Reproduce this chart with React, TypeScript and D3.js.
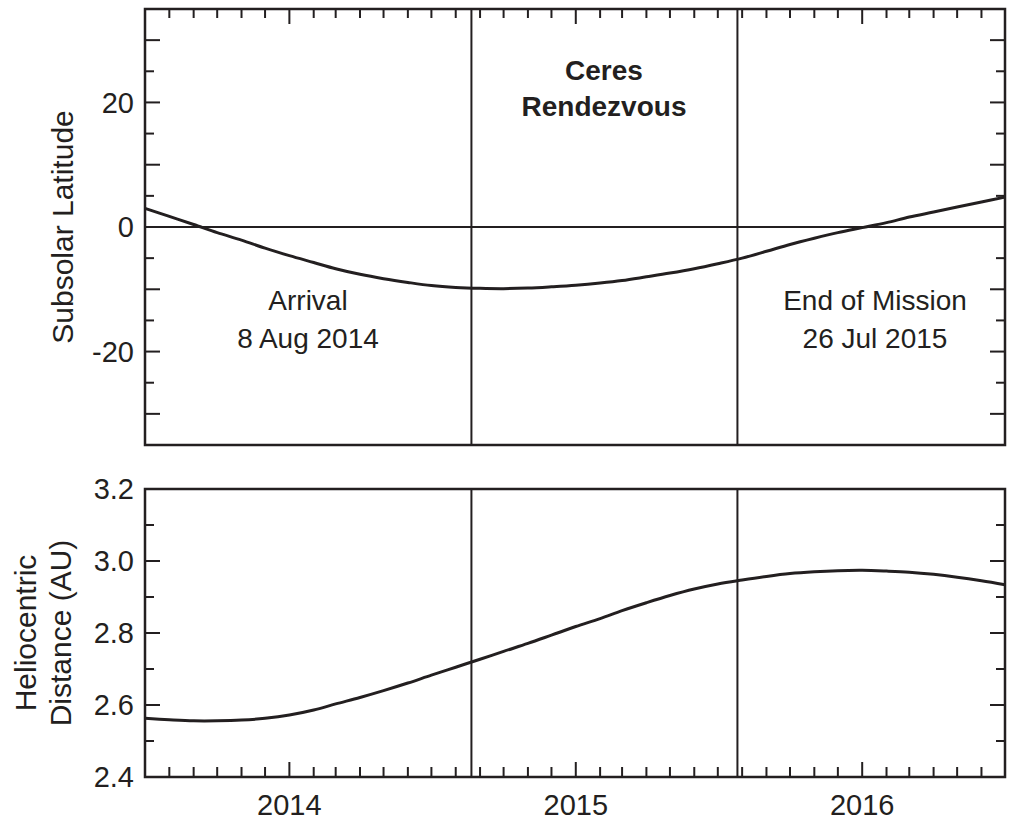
import React from "react";
import * as d3 from "d3";

// monthly samples
const months = [
  "2013-07", "2013-08", "2013-09", "2013-10", "2013-11", "2013-12",
  "2014-01", "2014-02", "2014-03", "2014-04", "2014-05", "2014-06",
  "2014-07", "2014-08", "2014-09", "2014-10", "2014-11", "2014-12",
  "2015-01", "2015-02", "2015-03", "2015-04", "2015-05", "2015-06",
  "2015-07", "2015-08", "2015-09", "2015-10", "2015-11", "2015-12",
  "2016-01", "2016-02", "2016-03", "2016-04", "2016-05", "2016-06",
  "2016-07",
];
const subsolarLat = [
  3.0, 1.7, 0.4, -0.9, -2.1, -3.4,
  -4.6, -5.7, -6.7, -7.6, -8.3, -8.9,
  -9.4, -9.7, -9.85, -9.9, -9.8, -9.6,
  -9.35, -9.0, -8.6, -8.0, -7.4, -6.7,
  -5.9, -5.0, -3.9, -2.8, -1.8, -0.9,
  -0.1, 0.7, 1.6, 2.4, 3.2, 4.0,
  4.8,
];
const helioDist = [
  2.563, 2.559, 2.556, 2.556, 2.558, 2.563,
  2.572, 2.586, 2.603, 2.621, 2.640, 2.661,
  2.683, 2.705, 2.727, 2.749, 2.771, 2.794,
  2.818, 2.840, 2.862, 2.884, 2.904, 2.922,
  2.936, 2.947, 2.957, 2.965, 2.970, 2.973,
  2.974, 2.972, 2.969, 2.963, 2.955, 2.945,
  2.934,
];
// vertical event lines (positions as drawn in the reference)
const markerDates = ["2014-08-21", "2015-07-26"];
const latLabels = [20, 0, -20];
const distLabels = [2.4, 2.6, 2.8, 3.0, 3.2];

const parseMonth = d3.timeParse("%Y-%m");
const parseDay = d3.timeParse("%Y-%m-%d");

const FONT = "'Liberation Sans', Arial, Helvetica, sans-serif";
const INK = "#231f20";

const App = () => {
  const width = 1013;
  const height = 824;
  const left = 145;
  const right = 1005;

  const dates = months.map((m) => parseMonth(m) as Date);
  const x = d3.scaleTime()
    .domain([dates[0], dates[dates.length - 1]])
    .range([left, right]);

  const yLat = d3.scaleLinear().domain([-35, 35]).range([445, 9]);
  const yDist = d3.scaleLinear().domain([2.4, 3.2]).range([777, 489]);

  const latLine = d3.line<number>()
    .x((_, i) => x(dates[i]))
    .y((d) => yLat(d))
    .curve(d3.curveCatmullRom);
  const distLine = d3.line<number>()
    .x((_, i) => x(dates[i]))
    .y((d) => yDist(d))
    .curve(d3.curveCatmullRom);

  const monthTicks = x.ticks(d3.timeMonth.every(1) as any);
  const markers = markerDates.map((d) => parseDay(d) as Date);

  // top panel ticks every 5, long every 10
  const latTicks = d3.range(-30, 31, 5);
  // bottom panel ticks every 0.1, long every 0.2
  const distTicks = d3.range(25, 32).map((v) => v / 10);

  const panel = (y0: number, y1: number) => (
    <rect x={left} y={y0} width={right - left} height={y1 - y0}
      fill="none" stroke={INK} strokeWidth={2.5} />
  );

  return (
    <svg width={width} height={height}
      style={{ position: "absolute", left: 0, top: 0, background: "#fff" }}
      fontFamily={FONT}>
      {/* ---------- top panel ---------- */}
      <line x1={left} x2={right} y1={yLat(0)} y2={yLat(0)} stroke={INK} strokeWidth={2} />
      {markers.map((d, i) => (
        <line key={"mt" + i} x1={x(d)} x2={x(d)} y1={yLat(35)} y2={yLat(-35)}
          stroke={INK} strokeWidth={2} />
      ))}
      {monthTicks.map((d, i) => {
        const isYear = d.getMonth() === 0;
        return <line key={"tt" + i} x1={x(d)} x2={x(d)} y1={yLat(35)}
          y2={yLat(35) + (isYear ? 15 : 9)} stroke={INK} strokeWidth={2} />;
      })}
      {latTicks.map((v) => {
        const len = v % 10 === 0 ? 15 : 9;
        return (
          <g key={"lt" + v}>
            <line x1={left} x2={left + len} y1={yLat(v)} y2={yLat(v)} stroke={INK} strokeWidth={2} />
            <line x1={right} x2={right - len} y1={yLat(v)} y2={yLat(v)} stroke={INK} strokeWidth={2} />
          </g>
        );
      })}
      {latLabels.map((v) => (
        <text key={"ll" + v} x={134} y={yLat(v)} dy="0.36em" textAnchor="end"
          fontSize={29} fill={INK}>{v}</text>
      ))}
      <path d={latLine(subsolarLat) || ""} fill="none" stroke={INK} strokeWidth={3} />
      {panel(yLat(35), yLat(-35))}

      <text x={604} fontSize={28} fontWeight="bold" textAnchor="middle" fill={INK}>
        <tspan x={604} y={80}>Ceres</tspan>
        <tspan x={604} y={116}>Rendezvous</tspan>
      </text>
      <text fontSize={28} textAnchor="middle" fill={INK}>
        <tspan x={308} y={310}>Arrival</tspan>
        <tspan x={308} y={348}>8 Aug 2014</tspan>
      </text>
      <text fontSize={28} textAnchor="middle" fill={INK}>
        <tspan x={875} y={310}>End of Mission</tspan>
        <tspan x={875} y={348}>26 Jul 2015</tspan>
      </text>
      <text transform={`translate(73,${yLat(0)}) rotate(-90)`} textAnchor="middle"
        fontSize={30} fill={INK}>Subsolar Latitude</text>

      {/* ---------- bottom panel ---------- */}
      {markers.map((d, i) => (
        <line key={"mb" + i} x1={x(d)} x2={x(d)} y1={yDist(3.2)} y2={yDist(2.4)}
          stroke={INK} strokeWidth={2} />
      ))}
      {monthTicks.map((d, i) => {
        const isYear = d.getMonth() === 0;
        return <line key={"bt" + i} x1={x(d)} x2={x(d)} y1={yDist(2.4)}
          y2={yDist(2.4) - (isYear ? 15 : 10)} stroke={INK} strokeWidth={2} />;
      })}
      {distTicks.map((v) => {
        const len = Math.round(v * 10) % 2 === 0 ? 15 : 9;
        return (
          <g key={"dt" + v}>
            <line x1={left} x2={left + len} y1={yDist(v)} y2={yDist(v)} stroke={INK} strokeWidth={2} />
            <line x1={right} x2={right - len} y1={yDist(v)} y2={yDist(v)} stroke={INK} strokeWidth={2} />
          </g>
        );
      })}
      {distLabels.map((v) => (
        <text key={"dl" + v} x={134} y={yDist(v)} dy="0.36em" textAnchor="end"
          fontSize={29} fill={INK}>{v.toFixed(1)}</text>
      ))}
      {monthTicks.filter((d) => d.getMonth() === 0).map((d, i) => (
        <text key={"yl" + i} x={x(d)} y={815} textAnchor="middle" fontSize={29} fill={INK}>
          {d3.timeFormat("%Y")(d)}
        </text>
      ))}
      <path d={distLine(helioDist) || ""} fill="none" stroke={INK} strokeWidth={3} />
      {panel(yDist(3.2), yDist(2.4))}
      <text transform={`translate(0,${(yDist(3.2) + yDist(2.4)) / 2}) rotate(-90)`}
        textAnchor="middle" fontSize={30} fill={INK}>
        <tspan x={0} y={36}>Heliocentric</tspan>
        <tspan x={0} y={71}>Distance (AU)</tspan>
      </text>
    </svg>
  );
};

export default App;
